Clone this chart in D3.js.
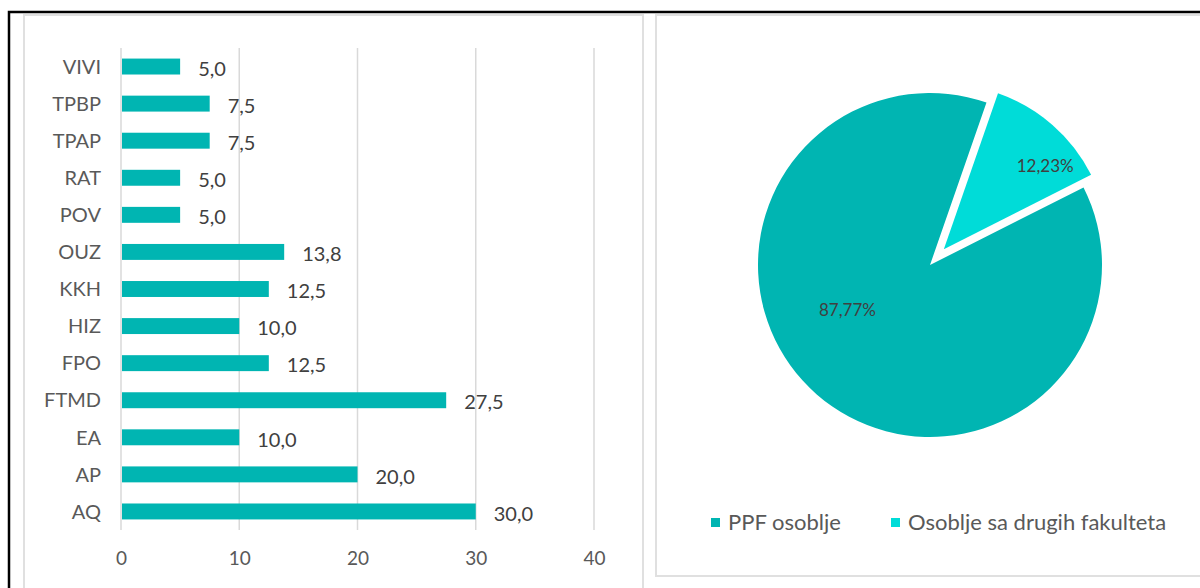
<!DOCTYPE html>
<html>
<head>
<meta charset="utf-8">
<script src="https://cdn.jsdelivr.net/npm/d3@7"></script>
<style>
  html, body { margin: 0; padding: 0; background: #fff; }
  svg { display: block; }
  text { font-family: Lato, "Open Sans", sans-serif; }
</style>
</head>
<body>
<svg id="chart" width="1200" height="588"></svg>
<script>
// ---- data ----
const categories = ["VIVI", "TPBP", "TPAP", "RAT", "POV", "OUZ", "KKH", "HIZ", "FPO", "FTMD", "EA", "AP", "AQ"];
const values = [5.0, 7.5, 7.5, 5.0, 5.0, 13.8, 12.5, 10.0, 12.5, 27.5, 10.0, 20.0, 30.0];
const xTicks = [0, 10, 20, 30, 40];
const pieLabels = ["PPF osoblje", "Osoblje sa drugih fakulteta"];
const pieValues = [87.77, 12.23];
const pieColors = ["#00b5b2", "#00dcd8"];

const svg = d3.select("#chart");
const fmt = v => v.toFixed(1).replace(".", ",");

// ---- frames ----
const frame = svg.append("g");
frame.append("path").attr("d", "M24,590 V15 H643 V590")
  .attr("fill", "none").attr("stroke", "#e0e0e0").attr("stroke-width", 2);
frame.append("path").attr("d", "M1202,576 H656 V15 H1202")
  .attr("fill", "none").attr("stroke", "#e0e0e0").attr("stroke-width", 2);
frame.append("path").attr("d", "M9,590 V12 H1202")
  .attr("fill", "none").attr("stroke", "#000").attr("stroke-width", 2.5);

// ---- bar chart ----
const x = d3.scaleLinear().domain([0, 40]).range([121, 594]);
const y = d3.scaleBand().domain(categories).range([48, 530])
  .paddingInner(0.57).paddingOuter(0.285);

const bar = svg.append("g");
bar.selectAll("line.grid").data(xTicks).join("line")
  .attr("class", "grid")
  .attr("x1", d => x(d)).attr("x2", d => x(d))
  .attr("y1", 48).attr("y2", 530)
  .attr("stroke", "#d9d9d9").attr("stroke-width", 1.5);

bar.selectAll("rect").data(categories).join("rect")
  .attr("x", x(0) + 1)
  .attr("y", d => y(d))
  .attr("width", (d, i) => x(values[i]) - x(0) - 1)
  .attr("height", y.bandwidth())
  .attr("fill", pieColors[0]);

bar.selectAll("text.cat").data(categories).join("text")
  .attr("class", "cat")
  .attr("x", 101)
  .attr("y", d => y(d) + y.bandwidth() / 2)
  .attr("dy", "0.36em")
  .attr("text-anchor", "end")
  .attr("font-size", 20)
  .attr("fill", "#595959")
  .text(d => d);

bar.selectAll("text.val").data(categories).join("text")
  .attr("class", "val")
  .attr("x", (d, i) => x(values[i]) + 18)
  .attr("y", d => y(d) + y.bandwidth() / 2 + 2)
  .attr("dy", "0.36em")
  .attr("font-size", 20)
  .attr("fill", "#404040")
  .text((d, i) => fmt(values[i]));

const xAxis = d3.axisBottom(x).tickValues(xTicks).tickSize(0).tickPadding(0)
  .tickFormat(d => String(d));
const ax = bar.append("g").attr("transform", "translate(0,551)").call(xAxis);
ax.select(".domain").remove();
ax.selectAll("text").attr("font-size", 19).attr("fill", "#595959")
  .attr("font-family", "Lato, 'Open Sans', sans-serif");

// ---- pie chart ----
const cx = 930, cy = 265;
const startDeg = 63.2;
const pie = d3.pie().sort(null)
  .startAngle(startDeg * Math.PI / 180)
  .endAngle(startDeg * Math.PI / 180 + 2 * Math.PI);
const arcs = pie(pieValues);
const radii = [172, 165];
const explode = [0, 21];

const pg = svg.append("g").attr("transform", `translate(${cx},${cy})`);
arcs.forEach((a, i) => {
  const mid = (a.startAngle + a.endAngle) / 2;
  const ox = Math.sin(mid) * explode[i];
  const oy = -Math.cos(mid) * explode[i];
  pg.append("path")
    .attr("d", d3.arc().innerRadius(0).outerRadius(radii[i])(a))
    .attr("transform", `translate(${ox},${oy})`)
    .attr("fill", pieColors[i]);
});

const labelPolar = [{ ang: 241.5, r: 94 }, { ang: 50.7, r: 131 }];
arcs.forEach((a, i) => {
  const mid = (a.startAngle + a.endAngle) / 2;
  const ox = Math.sin(mid) * explode[i];
  const oy = -Math.cos(mid) * explode[i];
  const t = labelPolar[i].ang * Math.PI / 180;
  pg.append("text")
    .attr("x", ox + Math.sin(t) * labelPolar[i].r)
    .attr("y", oy - Math.cos(t) * labelPolar[i].r)
    .attr("dy", "0.36em")
    .attr("text-anchor", "middle")
    .attr("font-size", 17)
    .attr("fill", "#404040")
    .text(pieValues[i].toFixed(2).replace(".", ",") + "%");
});

// legend
const legendX = [711, 891];
const lg = svg.append("g");
pieLabels.forEach((lab, i) => {
  lg.append("rect").attr("x", legendX[i]).attr("y", 518)
    .attr("width", 9).attr("height", 9).attr("fill", pieColors[i]);
  lg.append("text").attr("x", legendX[i] + 17).attr("y", 530)
    .attr("font-size", 22).attr("fill", "#595959").text(lab);
});
</script>
</body>
</html>
